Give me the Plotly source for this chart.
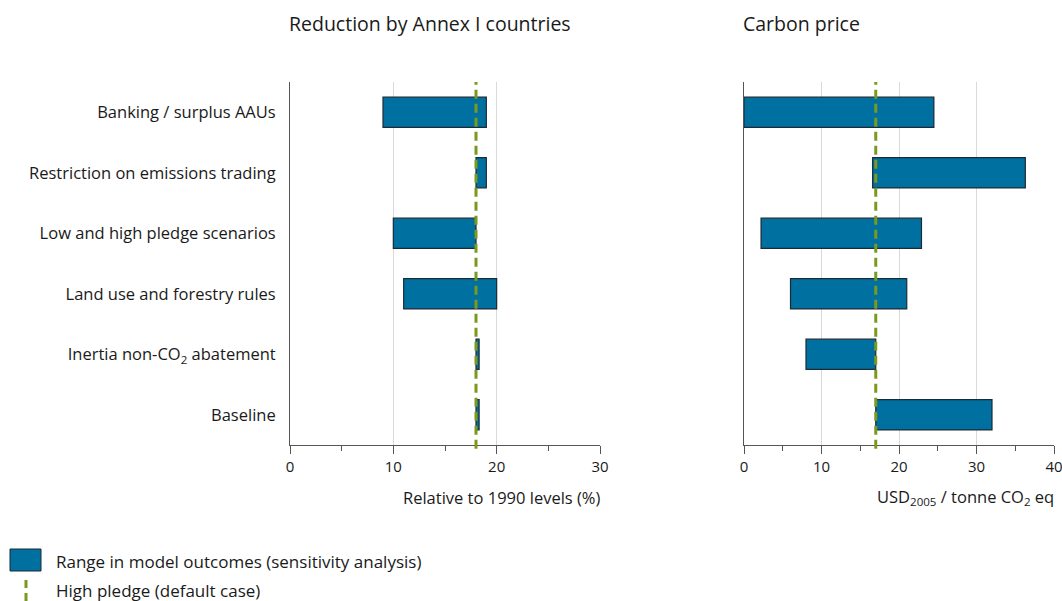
import plotly.graph_objects as go

categories = ["Banking / surplus AAUs", "Restriction on emissions trading",
              "Low and high pledge scenarios", "Land use and forestry rules",
              "Inertia non-CO<sub>2</sub> abatement", "Baseline"]
red_low = [9, 18, 10, 11, 18, 18]
red_high = [19, 19, 18, 20, 18.3, 18.3]
price_low = [0, 16.6, 2.2, 6, 8, 17]
price_high = [24.5, 36.3, 22.9, 21, 17, 32]
red_default = 18
price_default = 17

BLUE = "#0070a0"
EDGE = "#1b2a36"
GREEN = "#7a9a1e"
FONT = "Open Sans"
TXT = "#1a1a1a"

fig = go.Figure()
fig.add_trace(go.Bar(y=categories, x=[h - l for l, h in zip(red_low, red_high)], base=red_low,
                     orientation="h", width=0.5, marker=dict(color=BLUE, line=dict(color=EDGE, width=1.2)),
                     xaxis="x", yaxis="y", showlegend=False))
fig.add_trace(go.Bar(y=categories, x=[h - l for l, h in zip(price_low, price_high)], base=price_low,
                     orientation="h", width=0.5, marker=dict(color=BLUE, line=dict(color=EDGE, width=1.2)),
                     xaxis="x2", yaxis="y2", showlegend=False))

ydom = [1 - 445 / 601, 1 - 82 / 601]
xd1 = [290 / 1062, 600 / 1062]
xd2 = [744 / 1062, 1054 / 1062]

xcommon = dict(showline=True, linecolor="#555", linewidth=1, ticks="outside", ticklen=8,
               tickcolor="#555", showgrid=True, gridcolor="#d9d9d9", gridwidth=1, zeroline=False,
               tickfont=dict(family=FONT, size=15, color=TXT), automargin=False,
               ticklabeloverflow="allow",
               minor=dict(dtick=5, ticks="outside", ticklen=5, tickcolor="#555", showgrid=False))
ycommon = dict(showline=True, linecolor="#555", linewidth=1, ticks="", showgrid=False,
               categoryorder="array", categoryarray=categories, autorange="reversed",
               range=[5.5, -0.5], domain=ydom, automargin=False)

fig.update_layout(
    width=1062, height=601, margin=dict(l=0, r=0, t=0, b=0),
    plot_bgcolor="white", paper_bgcolor="white", bargap=0.5,
    font=dict(family=FONT, color=TXT),
    xaxis=dict(**xcommon, domain=xd1, range=[0, 30], dtick=10, anchor="y"),
    yaxis=dict(**ycommon, anchor="x", tickfont=dict(family=FONT, size=16.5, color=TXT),
               ticklabelstandoff=10),
    xaxis2=dict(**xcommon, domain=xd2, range=[0, 40], dtick=10, anchor="y2"),
    yaxis2=dict(**ycommon, anchor="x2", showticklabels=False),
)

# default-case dashed lines
fig.add_shape(type="line", xref="x", yref="y domain", x0=red_default, x1=red_default, y0=-0.01, y1=1,
              line=dict(color=GREEN, width=3, dash="9px,5px"))
fig.add_shape(type="line", xref="x2", yref="y2 domain", x0=price_default, x1=price_default, y0=-0.01, y1=1,
              line=dict(color=GREEN, width=3, dash="9px,5px"))

# titles
fig.add_annotation(text="Reduction by Annex I countries", xref="paper", yref="paper",
                   x=(xd1[0] * 1062 - 3) / 1062, y=1 - 24 / 601, xanchor="left", yanchor="middle",
                   showarrow=False, font=dict(family=FONT, size=19.5, color=TXT))
fig.add_annotation(text="Carbon price", xref="paper", yref="paper",
                   x=(xd2[0] * 1062 - 3) / 1062, y=1 - 24 / 601, xanchor="left", yanchor="middle",
                   showarrow=False, font=dict(family=FONT, size=19.5, color=TXT))
# axis titles
fig.add_annotation(text="Relative to 1990 levels (%)", xref="paper", yref="paper",
                   x=(xd1[1] * 1062 + 2) / 1062, y=1 - 497 / 601, xanchor="right", yanchor="middle",
                   showarrow=False, font=dict(family=FONT, size=16.5, color=TXT))
fig.add_annotation(text="USD<sub>2005</sub> / tonne CO<sub>2</sub> eq", xref="paper", yref="paper",
                   x=(xd2[1] * 1062 + 2) / 1062, y=1 - 497 / 601, xanchor="right", yanchor="middle",
                   showarrow=False, font=dict(family=FONT, size=16.5, color=TXT))

# legend
fig.add_shape(type="rect", xref="paper", yref="paper", x0=10 / 1062, x1=41 / 1062,
              y0=1 - 571 / 601, y1=1 - 549 / 601, fillcolor=BLUE, line=dict(color=EDGE, width=1))
fig.add_shape(type="line", xref="paper", yref="paper", x0=26 / 1062, x1=26 / 1062,
              y0=1 - 601 / 601, y1=1 - 580 / 601, line=dict(color=GREEN, width=3, dash="8px,5px"))
fig.add_annotation(text="Range in model outcomes (sensitivity analysis)", xref="paper", yref="paper",
                   x=54 / 1062, y=1 - 561 / 601, xanchor="left", yanchor="middle", showarrow=False,
                   font=dict(family=FONT, size=17, color=TXT))
fig.add_annotation(text="High pledge (default case)", xref="paper", yref="paper",
                   x=54 / 1062, y=1 - 590 / 601, xanchor="left", yanchor="middle", showarrow=False,
                   font=dict(family=FONT, size=17, color=TXT))

fig.write_html("out.html")
